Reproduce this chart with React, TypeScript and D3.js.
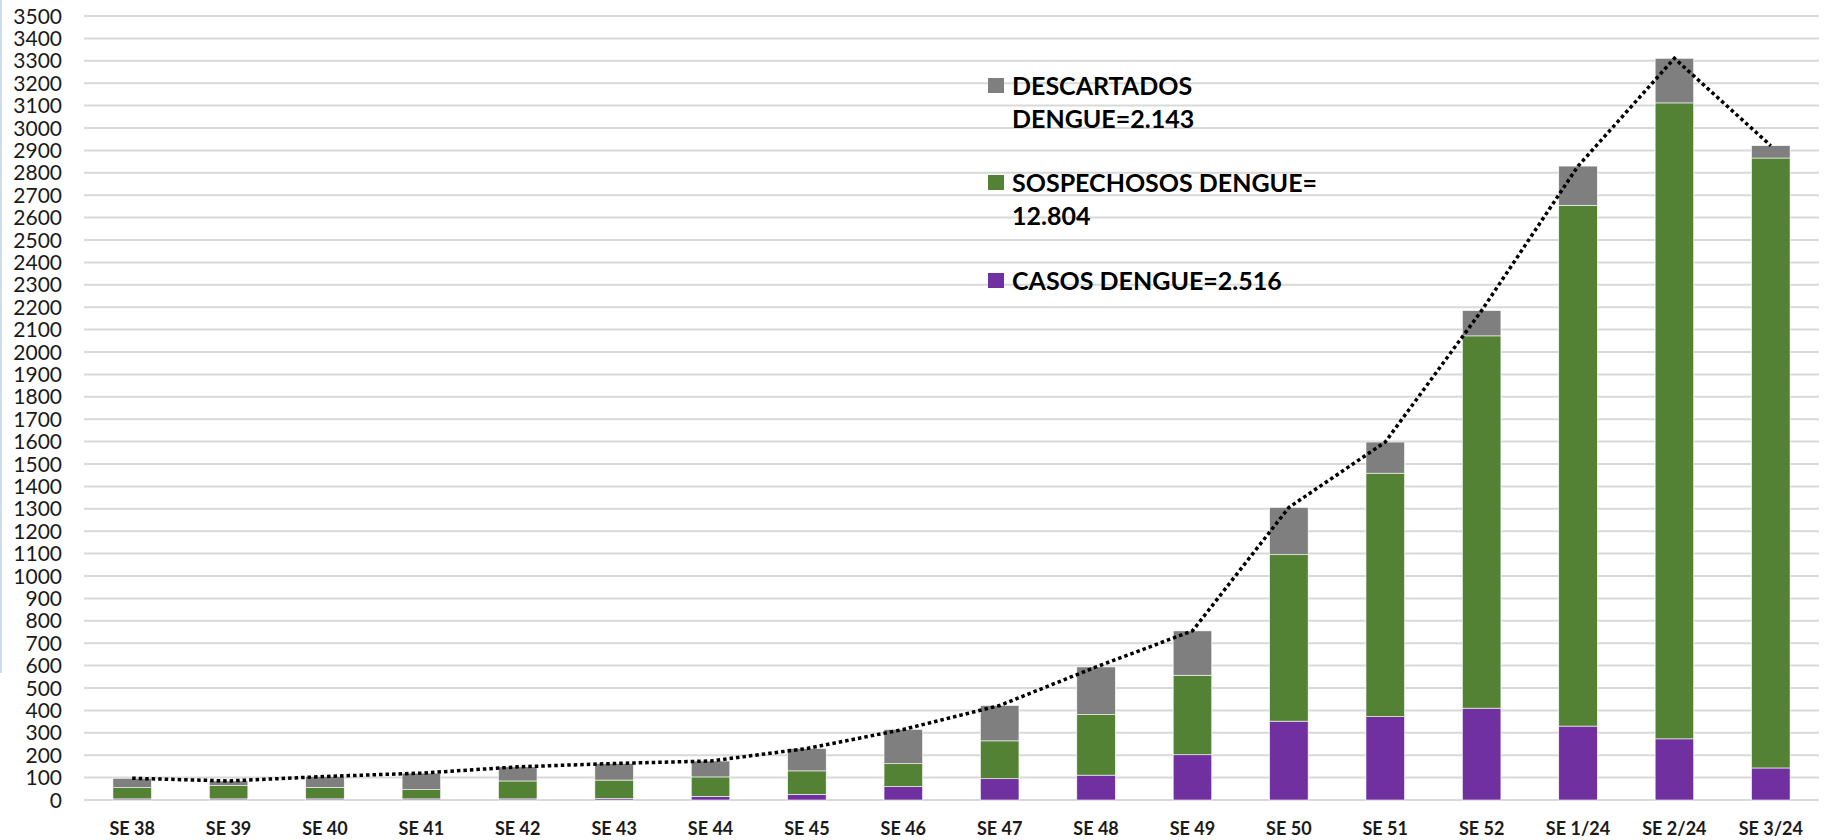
import React from "react";
import * as d3 from "d3";

const categories = ["SE 38","SE 39","SE 40","SE 41","SE 42","SE 43","SE 44","SE 45","SE 46","SE 47","SE 48","SE 49","SE 50","SE 51","SE 52","SE 1/24","SE 2/24","SE 3/24"];
const casos = [5,5,5,5,5,6,16,25,60,95,111,202,352,372,410,330,273,143];
const sospechosos = [50,59,51,41,80,83,87,105,102,169,270,355,743,1087,1662,2325,2839,2723];
const descartados = [42,21,49,74,63,74,71,100,153,158,213,198,211,139,113,175,199,55];
const yTicks = d3.range(0, 3501, 100);

const legendItems = [
  { lines: ["DESCARTADOS", "DENGUE=2.143"], color: "#7f7f7f" },
  { lines: ["SOSPECHOSOS DENGUE=", "12.804"], color: "#548235" },
  { lines: ["CASOS DENGUE=2.516"], color: "#7030a0" },
];

const W = 1826, H = 840;
const left = 84, right = 1819, top = 16, bottom = 800;

export default function App() {
  const x = d3.scaleBand<string>().domain(categories).range([left, right]).paddingInner(0.6).paddingOuter(0.3);
  const y = d3.scaleLinear().domain([0, 3500]).range([bottom, top]);
  const series = [
    { key: "casos", values: casos, color: "#7030a0" },
    { key: "sosp", values: sospechosos, color: "#548235" },
    { key: "desc", values: descartados, color: "#7f7f7f" },
  ];
  const totals = categories.map((_, i) => casos[i] + sospechosos[i] + descartados[i]);
  const line = d3.line<number>().x((_, i) => (x(categories[i]) as number) + x.bandwidth() / 2).y((d) => y(d));
  const font = "Lato, 'Open Sans', sans-serif";

  const bars: React.ReactNode[] = [];
  categories.forEach((c, i) => {
    let base = 0;
    series.forEach((s) => {
      const v = s.values[i];
      bars.push(
        <rect key={s.key + c} x={x(c)} y={y(base + v)} width={x.bandwidth()} height={y(base) - y(base + v)} fill={s.color} stroke="#ffffff" strokeWidth={0.6} />
      );
      base += v;
    });
  });

  return (
    <svg width={W} height={H} style={{ position: "absolute", left: 0, top: 0, background: "#fff" }} fontFamily={font}>
      <rect x={0} y={0} width={W} height={H} fill="#ffffff" />
      <line x1={1} x2={1} y1={0} y2={673} stroke="#cddcee" strokeWidth={2} />
      {yTicks.map((t) => (
        <g key={t}>
          <line x1={left} x2={right} y1={y(t)} y2={y(t)} stroke="#d9d9d9" strokeWidth={2} />
          <text x={62} y={y(t)} dy="0.36em" textAnchor="end" fontSize={21} fill="#1a1a1a">{t}</text>
        </g>
      ))}
      {bars}
      <path d={line(totals) || ""} fill="none" stroke="#000" strokeWidth={3.5} strokeDasharray="3.5 3" />
      {categories.map((c) => (
        <text key={c} x={(x(c) as number) + x.bandwidth() / 2} y={835} textAnchor="middle" fontSize={18} fontWeight="bold" fill="#1a1a1a">{c}</text>
      ))}
      {legendItems.map((it, k) => {
        const baseY = [95, 192, 290][k];
        return (
          <g key={k}>
            <rect x={988} y={baseY - 17} width={16} height={15} fill={it.color} />
            {it.lines.map((ln, j) => (
              <text key={j} x={1012} y={baseY + j * 33} fontSize={25} fontWeight="bold" fill="#000">{ln}</text>
            ))}
          </g>
        );
      })}
    </svg>
  );
}
